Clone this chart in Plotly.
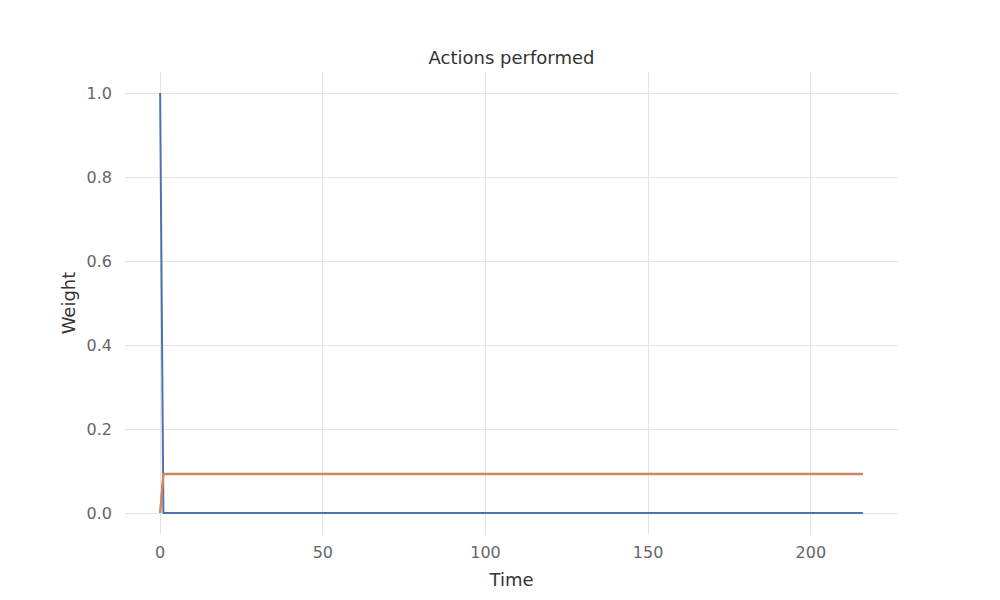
import plotly.graph_objects as go

# Data
time_points = [0, 1, 216]
weight_action_0 = [1.0, 0.0, 0.0]
weight_action_gray = [0.0, 0.0935, 0.0935]
weight_action_1 = [0.0, 0.0925, 0.0925]

series_names = ["action 0", "action 2", "action 1"]
series_values = [weight_action_0, weight_action_gray, weight_action_1]
series_colors = ["#4C72B0", "#8C8C8C", "#DD8452"]

x_ticks = [0, 50, 100, 150, 200]
y_ticks = [0, 0.2, 0.4, 0.6, 0.8, 1.0]
y_tick_labels = ["0.0", "0.2", "0.4", "0.6", "0.8", "1.0"]

fig = go.Figure()
for name, vals, col in zip(series_names, series_values, series_colors):
    fig.add_trace(go.Scatter(x=time_points, y=vals, mode="lines", name=name,
                             line=dict(color=col, width=2)))

fig.update_layout(
    width=1000, height=600,
    template="none",
    paper_bgcolor="white", plot_bgcolor="white",
    showlegend=False,
    font=dict(family="DejaVu Sans", size=16, color="#666666"),
    title=dict(text="Actions performed", x=0.5, xref="paper", xanchor="center",
               y=1 - 50 / 600, yanchor="middle",
               font=dict(family="DejaVu Sans", size=18, color="#333333")),
    margin=dict(l=117, r=110, t=64, b=74),
    xaxis=dict(range=[-10.8, 226.8], tickvals=x_ticks,
               showgrid=True, gridcolor="#e5e5e5", gridwidth=1, zeroline=False,
               showline=False, ticks="", ticklen=0, ticklabelstandoff=7,
               title=dict(text="Time", font=dict(size=18, color="#333333"), standoff=12)),
    yaxis=dict(range=[-0.05, 1.05], tickvals=y_ticks, ticktext=y_tick_labels,
               showgrid=True, gridcolor="#e5e5e5", gridwidth=1, zeroline=False,
               showline=False, ticks="", ticklen=0, ticklabelstandoff=12,
               title=dict(text="Weight", font=dict(size=18, color="#333333"), standoff=6)),
)

fig.write_html("out.html")
